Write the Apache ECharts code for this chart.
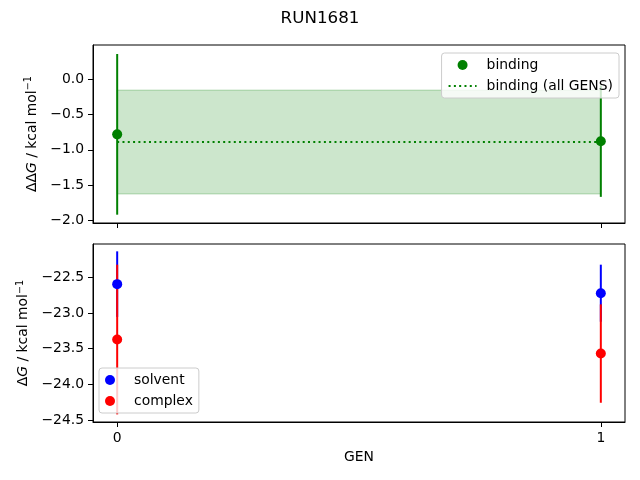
<!DOCTYPE html>
<html>
<head>
<meta charset="utf-8">
<script src="https://cdn.jsdelivr.net/npm/echarts@6/dist/echarts.min.js"></script>
<style>
  html, body { margin: 0; padding: 0; background: #fff; }
  #chart { width: 640px; height: 480px; }
</style>
</head>
<body>
<div id="chart"></div>
<script>
// ---- data ----
const gens = [0, 1];
const bindingValues = [-0.78, -0.877];
const bindingErrors = [1.14, 0.79];
const bindingAllGens = -0.889;
const bindingAllGensError = 0.737;
const solventValues = [-22.594, -22.721];
const solventErrors = [0.46, 0.40];
const complexValues = [-23.371, -23.568];
const complexErrors = [1.05, 0.69];
const xTicks = [0, 1];
const topYTicks = [-2.0, -1.5, -1.0, -0.5, 0.0];
const bottomYTicks = [-24.5, -24.0, -23.5, -23.0, -22.5];

const FONT = 'DejaVu Sans';
const FS = 13.9;

function fmt(v) { return v.toFixed(1).replace('-', '\u2212'); }

function errData(vals, errs) {
  return gens.map((g, i) => [g, vals[i], errs[i]]);
}
function ptData(vals) {
  return gens.map((g, i) => [g, vals[i]]);
}
function errSeries(name, vals, errs, color, gi) {
  return {
    type: 'custom', name: name + '_err', xAxisIndex: gi, yAxisIndex: gi,
    data: errData(vals, errs), z: 2, silent: true,
    renderItem: function (params, api) {
      const x = api.value(0), v = api.value(1), e = api.value(2);
      const p1 = api.coord([x, v - e]);
      const p2 = api.coord([x, v + e]);
      return {
        type: 'line',
        shape: { x1: p1[0], y1: p1[1], x2: p2[0], y2: p2[1] },
        style: { stroke: color, lineWidth: 2 }
      };
    }
  };
}

const axisCommon = {
  type: 'value',
  axisLine: { show: true, onZero: false, lineStyle: { color: '#000', width: 1 } },
  axisTick: { show: true, length: 5, lineStyle: { color: '#000', width: 1 } },
  splitLine: { show: false },
  axisLabel: { color: '#000', fontSize: FS, fontFamily: FONT, margin: 9 }
};

const chart = echarts.init(document.getElementById('chart'), null, { renderer: 'canvas' });
const option = {
  backgroundColor: '#fff',
  animation: false,
  title: {
    text: 'RUN1681', left: 'center', top: 5,
    textStyle: { fontFamily: FONT, fontSize: 16.7, fontWeight: 'normal', color: '#000' }
  },
  grid: [
    { left: 93, right: 15, top: 45, height: 178, show: true, borderColor: '#000', borderWidth: 1, backgroundColor: 'transparent' },
    { left: 93, right: 15, top: 244, height: 178, show: true, borderColor: '#000', borderWidth: 1, backgroundColor: 'transparent' }
  ],
  xAxis: [
    Object.assign({}, axisCommon, {
      gridIndex: 0, min: -0.05, max: 1.05,
      axisTick: Object.assign({}, axisCommon.axisTick, { customValues: xTicks }),
      axisLabel: Object.assign({}, axisCommon.axisLabel, { show: false, customValues: xTicks })
    }),
    Object.assign({}, axisCommon, {
      gridIndex: 1, min: -0.05, max: 1.05,
      name: 'GEN', nameLocation: 'middle', nameGap: 28,
      nameTextStyle: { fontFamily: FONT, fontSize: FS, color: '#000' },
      axisTick: Object.assign({}, axisCommon.axisTick, { customValues: xTicks }),
      axisLabel: Object.assign({}, axisCommon.axisLabel, { customValues: xTicks, formatter: v => String(Math.round(v)) })
    })
  ],
  yAxis: [
    Object.assign({}, axisCommon, {
      gridIndex: 0, min: -2.038, max: 0.488,
      name: '\u0394\u0394{it|G} / kcal mol{sup|\u22121}', nameLocation: 'middle', nameGap: 52, nameRotate: 90,
      nameTextStyle: {
        fontFamily: FONT, fontSize: FS, color: '#000',
        rich: {
          it: { fontFamily: FONT, fontSize: FS, fontStyle: 'italic', color: '#000' },
          sup: { fontFamily: FONT, fontSize: 9.7, color: '#000', padding: [0, 0, 7, 0] }
        }
      },
      axisTick: Object.assign({}, axisCommon.axisTick, { customValues: topYTicks }),
      axisLabel: Object.assign({}, axisCommon.axisLabel, { customValues: topYTicks, formatter: fmt })
    }),
    Object.assign({}, axisCommon, {
      gridIndex: 1, min: -24.528, max: -22.031,
      name: '\u0394{it|G} / kcal mol{sup|\u22121}', nameLocation: 'middle', nameGap: 59, nameRotate: 90,
      nameTextStyle: {
        fontFamily: FONT, fontSize: FS, color: '#000',
        rich: {
          it: { fontFamily: FONT, fontSize: FS, fontStyle: 'italic', color: '#000' },
          sup: { fontFamily: FONT, fontSize: 9.7, color: '#000', padding: [0, 0, 7, 0] }
        }
      },
      axisTick: Object.assign({}, axisCommon.axisTick, { customValues: bottomYTicks }),
      axisLabel: Object.assign({}, axisCommon.axisLabel, { customValues: bottomYTicks, formatter: fmt })
    })
  ],
  legend: [
    {
      data: [
        'binding',
        { name: 'binding (all GENS)', itemStyle: { opacity: 0 } }
      ],
      orient: 'vertical', right: 21, top: 53,
      itemWidth: 28, itemHeight: 10, itemGap: 7,
      padding: [5, 6, 5, 6],
      backgroundColor: 'rgba(255,255,255,0.8)', borderColor: '#cccccc', borderWidth: 1, borderRadius: 3,
      textStyle: { fontFamily: FONT, fontSize: FS, color: '#000', padding: [0, 0, 0, 5] }
    },
    {
      data: ['solvent', 'complex'],
      orient: 'vertical', left: 99, top: 368,
      itemWidth: 28, itemHeight: 10, itemGap: 7,
      padding: [5, 6, 5, 6],
      backgroundColor: 'rgba(255,255,255,0.8)', borderColor: '#cccccc', borderWidth: 1, borderRadius: 3,
      textStyle: { fontFamily: FONT, fontSize: FS, color: '#000', padding: [0, 0, 0, 5] }
    }
  ],
  series: [
    {
      type: 'line', name: 'binding (all GENS)', xAxisIndex: 0, yAxisIndex: 0,
      data: gens.map(g => [g, bindingAllGens]), symbol: 'none', z: 3,
      lineStyle: { color: '#008000', width: 2, type: [2, 3.3] },
      itemStyle: { color: '#008000' },
      markArea: {
        silent: true,
        itemStyle: { color: 'rgba(0,128,0,0.2)', borderColor: 'rgba(0,128,0,0.25)', borderWidth: 1 },
        data: [[
          { xAxis: gens[0], yAxis: bindingAllGens + bindingAllGensError },
          { xAxis: gens[gens.length - 1], yAxis: bindingAllGens - bindingAllGensError }
        ]]
      }
    },
    errSeries('binding', bindingValues, bindingErrors, '#008000', 0),
    {
      type: 'scatter', name: 'binding', xAxisIndex: 0, yAxisIndex: 0,
      data: ptData(bindingValues), symbolSize: 10, z: 4,
      itemStyle: { color: '#008000', opacity: 1 }
    },
    errSeries('solvent', solventValues, solventErrors, '#0000ff', 1),
    errSeries('complex', complexValues, complexErrors, '#ff0000', 1),
    {
      type: 'scatter', name: 'solvent', xAxisIndex: 1, yAxisIndex: 1,
      data: ptData(solventValues), symbolSize: 10, z: 4,
      itemStyle: { color: '#0000ff', opacity: 1 }
    },
    {
      type: 'scatter', name: 'complex', xAxisIndex: 1, yAxisIndex: 1,
      data: ptData(complexValues), symbolSize: 10, z: 4,
      itemStyle: { color: '#ff0000', opacity: 1 }
    }
  ]
};
chart.setOption(option);
</script>
</body>
</html>
